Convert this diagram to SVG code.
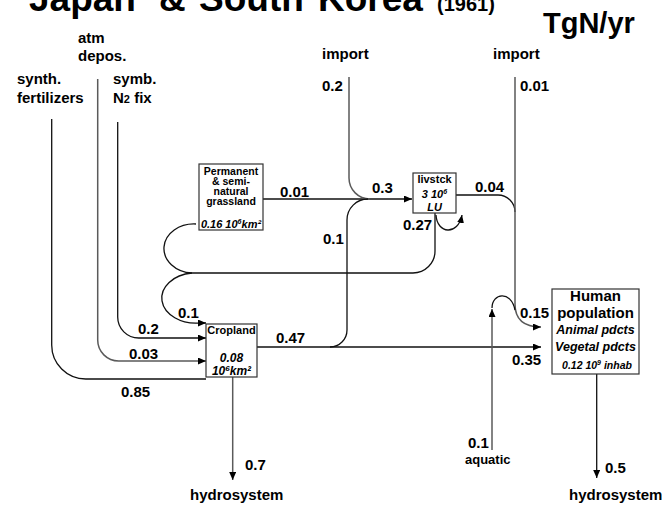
<svg xmlns="http://www.w3.org/2000/svg" width="662" height="506" viewBox="0 0 662 506">
<style>
.t{font-family:"Liberation Sans",Arial,Helvetica,sans-serif;font-weight:bold;fill:#000}
.l15{font-size:15px}
.v{font-size:15px}
.bx{fill:#fff;stroke:#333;stroke-width:1.2}
.it{font-style:italic}
.k{fill:none;stroke:#111;stroke-width:1.3}
.g{fill:none;stroke:#5a5a5a;stroke-width:1.5}
.c{text-anchor:middle}
</style>
<defs>
<marker id="ah" viewBox="0 0 8 7" refX="8" refY="3.5" markerWidth="8" markerHeight="7" markerUnits="userSpaceOnUse" orient="auto">
<path d="M0,0 L8,3.5 L0,7 z" fill="#000"/>
</marker>
</defs>

<g id="title">
<text class="t" y="11" font-size="37"><tspan x="29">Japan</tspan><tspan x="159">&amp;</tspan><tspan x="199">South</tspan><tspan x="318">Korea</tspan></text>
<text class="t" x="437" y="11" font-size="20">(1961)</text>
<text class="t" x="543" y="33" font-size="29">TgN/yr</text>
</g>

<g id="connectors">
<path class="k" d="M51.7,119 V345 A34,34 0 0 0 85.7,379 H206"/>
<path class="g" d="M97.7,79 V340 A21,21 0 0 0 118.7,361 H206" marker-end="url(#ah)"/>
<path class="k" d="M117.7,122 V317 A21,21 0 0 0 138.7,338 H206" marker-end="url(#ah)"/>
<path class="k" d="M196,224 A30,24.5 0 0 0 192,273"/>
<path class="k" d="M192,273 A34,25 0 0 0 200,323 H206" marker-end="url(#ah)"/>
<path class="k" d="M435,213 V251 A22,22 0 0 1 413,273 H192"/>
<path class="k" d="M436,215 C437,234 458,236 462,215" marker-end="url(#ah)"/>
<path class="k" d="M263,199 H412" marker-end="url(#ah)"/>
<path class="g" d="M349,77 V178 A21,21 0 0 0 370,199"/>
<path class="k" d="M330,347 A17,17 0 0 0 347,330 V220 A21,21 0 0 1 368,199"/>
<path class="k" d="M257,347 H541" marker-end="url(#ah)"/>
<path class="k" d="M456,195 H498 A17,17 0 0 1 515,212"/>
<path class="g" d="M515,77 V304 C515,318 522,327 541,327" marker-end="url(#ah)"/>
<path class="g" d="M492,450 V309" marker-end="url(#ah)"/>
<path class="k" d="M492,308 C492,293 511,290 515,310"/>
<path class="g" d="M232.7,377 V480" marker-end="url(#ah)"/>
<path class="k" d="M596.7,374 V478" marker-end="url(#ah)"/>
</g>

<g id="grassland">
<rect class="bx" x="199" y="164" width="64" height="66"/>
<text class="t c" x="231" font-size="10.5"><tspan x="231" y="175">Permanent</tspan><tspan x="231" y="185">&amp; semi-</tspan><tspan x="231" y="195">natural</tspan><tspan x="231" y="205">grassland</tspan></text>
<text class="t c it" x="231" y="228" font-size="11">0.16 10<tspan font-size="7" dy="-4">6</tspan><tspan dy="4">km²</tspan></text>
</g>

<g id="livestock">
<rect class="bx" x="413" y="173" width="43" height="40"/>
<text class="t c" x="434.5" y="183" font-size="11">livstck</text>
<text class="t c it" x="434.5" y="198" font-size="11">3 10<tspan font-size="7" dy="-4">6</tspan></text>
<text class="t c it" x="434.5" y="211" font-size="11">LU</text>
</g>

<g id="cropland">
<rect class="bx" x="206" y="324" width="51" height="53"/>
<text class="t c" x="231.5" y="334" font-size="11">Cropland</text>
<text class="t c it" x="231.5" y="362" font-size="12">0.08</text>
<text class="t c it" x="231.5" y="375" font-size="12">10<tspan font-size="8" dy="-4">6</tspan><tspan dy="4">km²</tspan></text>
</g>

<g id="human">
<rect class="bx" x="552" y="289" width="87" height="85"/>
<text class="t c" x="595.5" y="301" font-size="15">Human</text>
<text class="t c" x="595.5" y="318" font-size="15">population</text>
<text class="t c it" x="595.5" y="334" font-size="12.5">Animal pdcts</text>
<text class="t c it" x="595.5" y="351" font-size="12.5">Vegetal pdcts</text>
<text class="t c it" x="597" y="369" font-size="10.5">0.12 10<tspan font-size="7" dy="-4">9</tspan><tspan dy="4"> inhab</tspan></text>
</g>

<g id="sources">
<text class="t l15"><tspan x="78" y="43">atm</tspan><tspan x="78" y="61">depos.</tspan></text>
<text class="t l15"><tspan x="17" y="84">synth.</tspan><tspan x="17" y="103">fertilizers</tspan></text>
<text class="t l15"><tspan x="113" y="84">symb.</tspan><tspan x="113" y="103">N<tspan font-size="11">2</tspan> fix</tspan></text>
<text class="t l15" x="322" y="59">import</text>
<text class="t l15" x="493" y="59">import</text>
<text class="t" x="465" y="464" font-size="13">aquatic</text>
<text class="t l15" x="190" y="500">hydrosystem</text>
<text class="t l15" x="569" y="500">hydrosystem</text>
</g>

<g id="values">
<text class="t v" x="322" y="91">0.2</text>
<text class="t v" x="520" y="91">0.01</text>
<text class="t v" x="280" y="196.5">0.01</text>
<text class="t v" x="372" y="193">0.3</text>
<text class="t v" x="475" y="192">0.04</text>
<text class="t v" x="403" y="230">0.27</text>
<text class="t v" x="323" y="244">0.1</text>
<text class="t v" x="178" y="318">0.1</text>
<text class="t v" x="138" y="334">0.2</text>
<text class="t v" x="129" y="359">0.03</text>
<text class="t v" x="121" y="397">0.85</text>
<text class="t v" x="276" y="343">0.47</text>
<text class="t v" x="512" y="365">0.35</text>
<text class="t v" x="520" y="318">0.15</text>
<text class="t v" x="468" y="448">0.1</text>
<text class="t v" x="245" y="470">0.7</text>
<text class="t v" x="605" y="473">0.5</text>
</g>
</svg>
